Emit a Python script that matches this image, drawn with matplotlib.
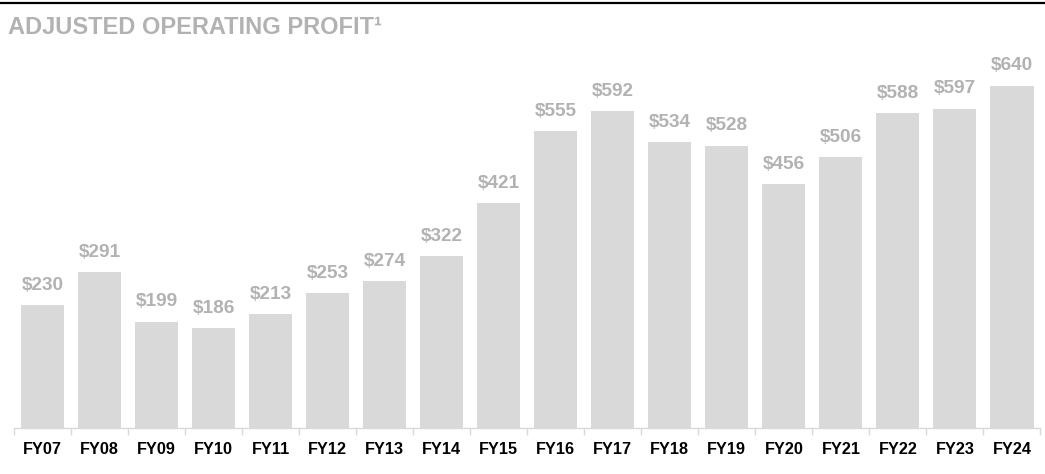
import matplotlib
matplotlib.use("Agg")
import matplotlib.pyplot as plt
from matplotlib.lines import Line2D

categories = ["FY07", "FY08", "FY09", "FY10", "FY11", "FY12", "FY13", "FY14", "FY15",
              "FY16", "FY17", "FY18", "FY19", "FY20", "FY21", "FY22", "FY23", "FY24"]
values = [230, 291, 199, 186, 213, 253, 274, 322, 421,
          555, 592, 534, 528, 456, 506, 588, 597, 640]
value_labels = ["$" + str(v) for v in values]
title = "ADJUSTED OPERATING PROFIT"

plt.rcParams['font.family'] = ['Liberation Sans', 'DejaVu Sans']

W, H = 1045, 474
fig = plt.figure(figsize=(W / 100, H / 100), dpi=100)

ax_left = 14 / W
ax_right = 1040.5 / W
ax_bottom = (H - 428) / H
ax_top = (H - 60) / H
ax = fig.add_axes([ax_left, ax_bottom, ax_right - ax_left, ax_top - ax_bottom])

x = list(range(len(categories)))
bars = ax.bar(x, values, width=0.755, color="#d9d9d9", zorder=2)
ax.set_xlim(-0.5, len(categories) - 0.5)
ax.set_ylim(0, (428 - 60) / 0.535)

for xi, v, lab in zip(x, values, value_labels):
    ax.annotate(lab, (xi, v), xytext=(0, 8), textcoords="offset points",
                ha="center", va="bottom", fontsize=13.7, fontweight="bold",
                color="#b2b2b2", annotation_clip=False)

for s in ["top", "right", "left"]:
    ax.spines[s].set_visible(False)
ax.spines["bottom"].set_color("#d9d9d9")
ax.spines["bottom"].set_linewidth(1.0)
ax.set_yticks([])

# Category labels (no tick marks at centers)
ax.set_xticks(x)
ax.set_xticklabels(categories, fontsize=11.7, fontweight="bold", color="black")
ax.tick_params(axis="x", length=0, pad=10)

# Tick marks at category boundaries
ax.set_xticks([i - 0.5 for i in range(len(categories) + 1)], minor=True)
ax.tick_params(axis="x", which="minor", length=5, color="#d9d9d9", width=1.0, direction="out")

# Title
fig.text(8 / W, 1 - 27 / H, title + "\u00b9", ha="left", va="center",
         fontsize=17, fontweight="bold", color="#b2b2b2")

# Top rule
fig.add_artist(Line2D([0, 1], [1 - 2.5 / H, 1 - 2.5 / H], color="black", linewidth=1.6,
                      transform=fig.transFigure))

fig.savefig("out.png", dpi=100)
